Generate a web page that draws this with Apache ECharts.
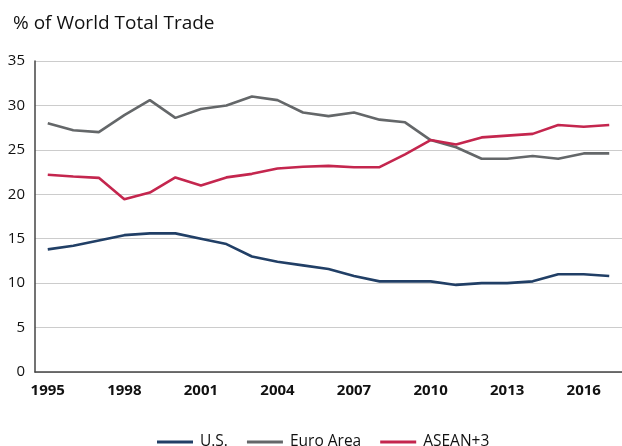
<!DOCTYPE html>
<html>
<head>
<meta charset="utf-8">
<title>% of World Total Trade</title>
<script src="https://cdn.jsdelivr.net/npm/echarts@6/dist/echarts.min.js"></script>
<style>
  html, body { margin: 0; padding: 0; background: #fff; }
  #chart { width: 622px; height: 446px; }
</style>
</head>
<body>
<div id="chart"></div>
<script>
// data
const years = ['1995', '1996', '1997', '1998', '1999', '2000', '2001', '2002', '2003', '2004', '2005', '2006',
  '2007', '2008', '2009', '2010', '2011', '2012', '2013', '2014', '2015', '2016', '2017'];
const us = [13.8, 14.2, 14.8, 15.4, 15.6, 15.6, 15.0, 14.4, 13.0, 12.4, 12.0, 11.6,
  10.8, 10.2, 10.2, 10.2, 9.8, 10.0, 10.0, 10.2, 11.0, 11.0, 10.8];
const euroArea = [28.0, 27.2, 27.0, 28.9, 30.6, 28.6, 29.6, 30.0, 31.0, 30.6, 29.2, 28.8,
  29.2, 28.4, 28.1, 26.1, 25.3, 24.0, 24.0, 24.3, 24.0, 24.6, 24.6];
const asean3 = [22.2, 22.0, 21.85, 19.45, 20.2, 21.9, 21.0, 21.9, 22.3, 22.9, 23.1, 23.2,
  23.05, 23.05, 24.5, 26.1, 25.6, 26.4, 26.6, 26.8, 27.8, 27.6, 27.8];

const font = '"Open Sans", "Noto Sans", sans-serif';

let chart = echarts.init(document.getElementById('chart'));

function lineSeries(name, values, color) {
  return {
    name: name,
    type: 'line',
    data: values,
    symbol: 'none',
    smooth: false,
    lineStyle: { width: 2.6, color: color },
    itemStyle: { color: color }
  };
}

let option = {
  animation: false,
  textStyle: { fontFamily: font },
  title: {
    text: '% of World Total Trade',
    left: 8,
    top: 9,
    textStyle: { fontFamily: font, fontSize: 19, fontWeight: 'normal', color: '#111' }
  },
  legend: {
    left: 152,
    top: 429,
    icon: 'rect',
    itemWidth: 36,
    itemHeight: 3,
    itemGap: 19,
    textStyle: { fontFamily: font, fontSize: 15.5, color: '#111', padding: [0, 0, 0, 2] },
    data: ['U.S.', 'Euro Area', 'ASEAN+3']
  },
  grid: { left: 35, right: 0, top: 61, bottom: 74 },
  xAxis: {
    type: 'category',
    data: years,
    boundaryGap: true,
    axisTick: { show: false },
    axisLine: { lineStyle: { color: '#444', width: 1.5 } },
    axisLabel: {
      interval: 2,
      margin: 11,
      fontFamily: font,
      fontSize: 15,
      fontWeight: 'bold',
      color: '#111'
    }
  },
  yAxis: {
    type: 'value',
    min: 0,
    max: 35,
    interval: 5,
    axisLine: { show: true, lineStyle: { color: '#444', width: 1.5 } },
    axisTick: { show: false },
    splitLine: { lineStyle: { color: '#cccccc', width: 1.2 } },
    axisLabel: { margin: 10, fontFamily: font, fontSize: 15, color: '#111' }
  },
  series: [
    lineSeries('U.S.', us, '#213f66'),
    lineSeries('Euro Area', euroArea, '#646769'),
    lineSeries('ASEAN+3', asean3, '#c4264e')
  ]
};

chart.setOption(option);
</script>
</body>
</html>
